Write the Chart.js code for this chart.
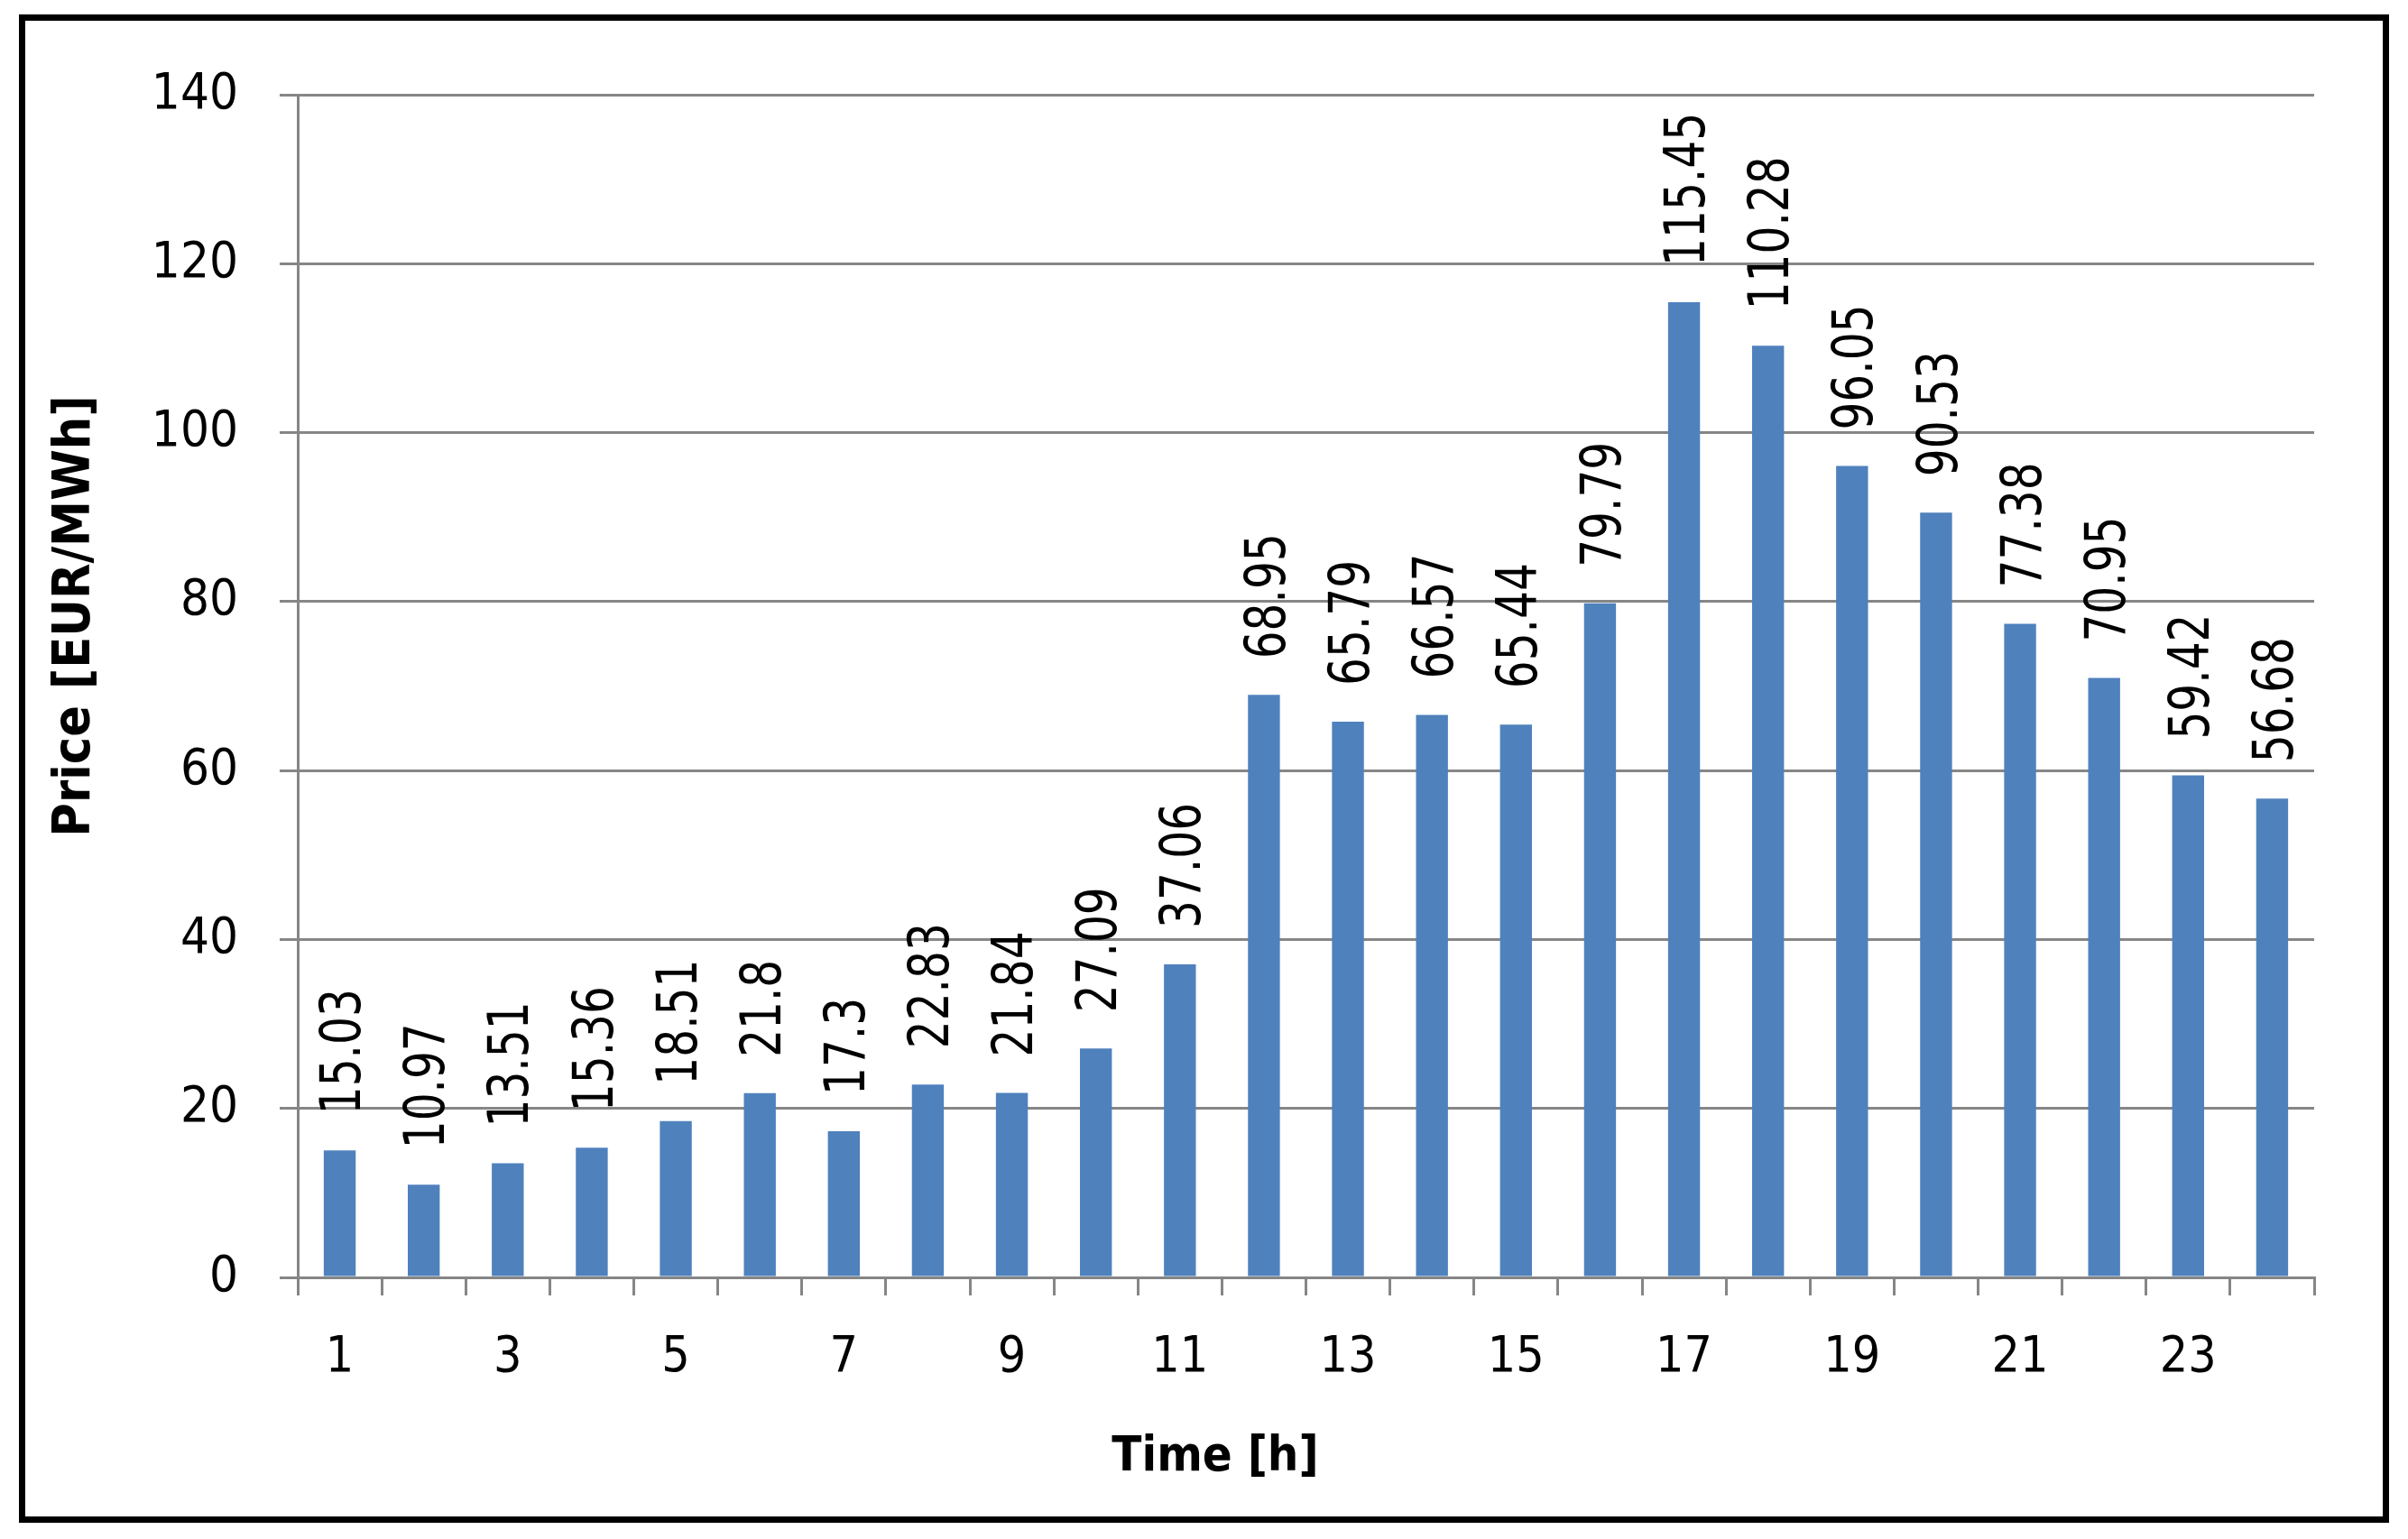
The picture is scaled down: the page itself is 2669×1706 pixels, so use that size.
<!DOCTYPE html>
<html>
<head>
<meta charset="utf-8">
<title>Price per hour</title>
<script src="https://cdn.jsdelivr.net/npm/chart.js@4.4.1/dist/chart.umd.min.js"></script>
<style>
  html, body { margin: 0; padding: 0; background: #fff; }
  #wrap { position: relative; width: 2669px; height: 1706px; }
  #frame {
    position: absolute; left: 21px; top: 16px; width: 2627px; height: 1672px;
    border: 7px solid #000; box-sizing: border-box; pointer-events: none;
  }
</style>
</head>
<body>
<div id="wrap">
  <canvas id="priceChart" width="2669" height="1706"></canvas>
  <div id="frame"></div>
</div>
<script>
const hours = ["1", "2", "3", "4", "5", "6", "7", "8", "9", "10", "11", "12",
  "13", "14", "15", "16", "17", "18", "19", "20", "21", "22", "23", "24"];
const prices = [15.03, 10.97, 13.51, 15.36, 18.51, 21.8, 17.3, 22.83, 21.84, 27.09, 37.06, 68.95,
  65.79, 66.57, 65.44, 79.79, 115.45, 110.28, 96.05, 90.53, 77.38, 70.95, 59.42, 56.68];
const shownHours = ["1", "3", "5", "7", "9", "11", "13", "15", "17", "19", "21", "23"];
const xTitle = "Time [h]";
const yTitle = "Price [EUR/MWh]";

const FONT = "'DejaVu Sans Condensed', 'DejaVu Sans', sans-serif";
const GRID = "#868686";

// value labels above the bars and the two axis titles
const extraText = {
  id: "extraText",
  afterDatasetsDraw(chart) {
    const ctx = chart.ctx;
    const meta = chart.getDatasetMeta(0);
    const size = 54;
    ctx.save();
    ctx.fillStyle = "#000";
    ctx.font = size + "px " + FONT;
    ctx.textAlign = "left";
    ctx.textBaseline = "alphabetic";
    meta.data.forEach((bar, i) => {
      ctx.save();
      ctx.translate(bar.x, bar.y - 40);
      ctx.rotate(-Math.PI / 2);
      ctx.scale(1, 1.15);
      ctx.fillText(String(prices[i]), 0, size * 0.73 / 2);
      ctx.restore();
    });
    ctx.restore();
  },
  afterDraw(chart) {
    const ctx = chart.ctx;
    ctx.save();
    ctx.fillStyle = "#000";
    ctx.textAlign = "center";
    ctx.textBaseline = "alphabetic";
    let size = 54;
    ctx.font = "bold " + size + "px " + FONT;
    ctx.fillText(xTitle, 1347, 1610 + size * 0.73 / 2);
    size = 57;
    ctx.font = "bold " + size + "px " + FONT;
    ctx.translate(78, 683);
    ctx.rotate(-Math.PI / 2);
    ctx.fillText(yTitle, 0, size * 0.73 / 2);
    ctx.restore();
  }
};

document.addEventListener("DOMContentLoaded", function () {
  Chart.defaults.font.family = FONT;
  Chart.defaults.color = "#000";

  const ctx = document.getElementById("priceChart").getContext("2d");
  new Chart(ctx, {
    type: "bar",
    data: {
      labels: hours,
      datasets: [
        {
          label: "Price",
          data: prices,
          backgroundColor: "#4F81BD",
          borderWidth: 0,
          barPercentage: 0.38,
          categoryPercentage: 1,
        },
      ],
    },
    options: {
      responsive: false,
      animation: false,
      layout: {
        padding: { top: 105, right: 104, left: 0, bottom: 0 },
      },
      plugins: {
        legend: { display: false },
        tooltip: { enabled: false },
      },
      scales: {
        x: {
          afterFit: (scale) => { scale.height = 290; },
          grid: {
            display: true,
            drawOnChartArea: false,
            drawTicks: true,
            tickLength: 20,
            color: GRID,
            lineWidth: 3,
            offset: true,
          },
          border: { display: true, color: GRID, width: 3 },
          ticks: {
            autoSkip: false,
            maxRotation: 0,
            padding: 37,
            font: { size: 55 },
            callback: function (value, index) {
              const label = hours[index];
              return shownHours.includes(label) ? label : "";
            },
          },
        },
        y: {
          min: 0,
          max: 140,
          afterFit: (scale) => { scale.width = 330; },
          grid: {
            color: GRID,
            lineWidth: 3,
            drawTicks: true,
            tickLength: 20,
          },
          border: { display: true, color: GRID, width: 3 },
          ticks: {
            stepSize: 20,
            padding: 46,
            font: { size: 56 },
          },
        },
      },
    },
    plugins: [extraText],
  });
});
</script>
</body>
</html>
